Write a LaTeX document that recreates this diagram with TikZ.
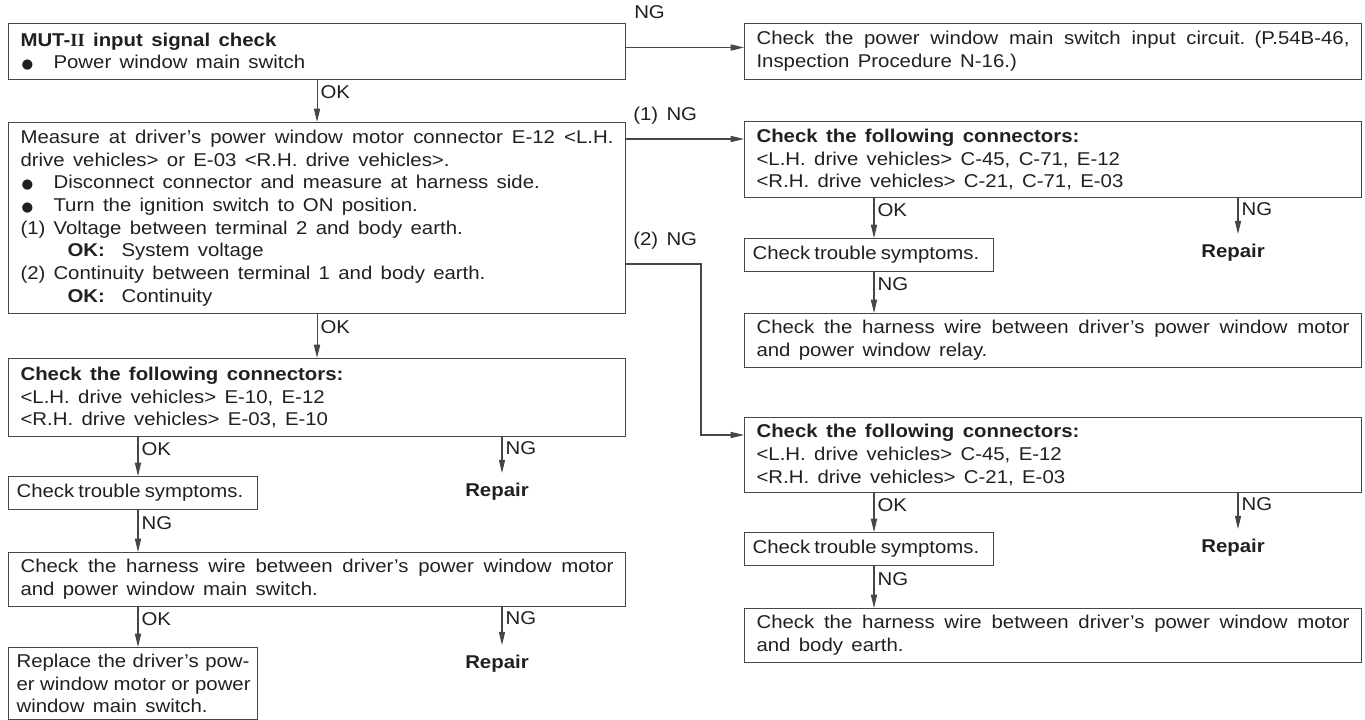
\documentclass[tikz,border=0pt]{standalone}
\usepackage{fontspec}
\usepackage{graphicx}
\setmainfont{Liberation Sans}[FakeStretch=1.1]
\newfontfamily\romfont{Liberation Serif}
\newfontfamily\symfont{DejaVu Sans}
\usetikzlibrary{arrows.meta, positioning}
\definecolor{inkgray}{RGB}{35, 31, 32}
\definecolor{rulegray}{RGB}{70, 70, 70}
\newdimen\px \px=0.75pt
\newcommand{\jl}[2][593\px]{\leavevmode\hbox to #1{\spaceskip=.3em plus 1fil\relax #2}}
\newcommand{\blt}{\makebox[33\px][l]{\hspace*{1\px}\raisebox{.3\px}{\symfont\fontsize{10}{10}\selectfont ●}}}
\newcommand{\itemno}[1]{\makebox[33\px][l]{#1}}
\newcommand{\widesp}{\spaceskip=.45em plus .5em minus .1em\relax}
\newcommand{\tightsp}{\spaceskip=.22em plus .5em minus .05em\relax}

\begin{document}
\begin{tikzpicture}[x=1\px, y=-1\px,
  every node/.style={font=\fontsize{13.9}{17}\selectfont, text=inkgray, execute at begin node=\widesp},
  box/.style={draw=rulegray, line width=0.8pt, anchor=north west, align=left, inner ysep=0pt},
  wide/.style={box, inner xsep=12\px, text width=593\px},
  small/.style={box, inner xsep=8\px, text width=233\px, execute at begin node=\tightsp},
  rep/.style={font=\fontsize{13.9}{17}\selectfont\bfseries, inner ysep=10\px},
  lbl/.style={anchor=west, inner xsep=3\px, inner ysep=1\px},
  arr/.style={-{Triangle[length=10pt, width=4.6pt]}, line width=0.8pt, draw=rulegray}
]
\useasboundingbox (0,0) rectangle (1365,720);

% left column
\node[wide, minimum height=56\px] (mut) at (8,23)
  {\textbf{MUT-{\romfont II} input signal check}\\
   \blt Power window main switch};
\node[wide, minimum height=191\px] (meas) at (8,122)
  {\jl{Measure at driver’s power window motor connector E-12 <L.H.}\\
   drive vehicles> or E-03 <R.H. drive vehicles>.\\
   \blt Disconnect connector and measure at harness side.\\
   \blt Turn the ignition switch to ON position.\\
   \itemno{(1)}Voltage between terminal 2 and body earth.\\
   \hspace*{47\px}\textbf{OK:}\ \ System voltage\\
   \itemno{(2)}Continuity between terminal 1 and body earth.\\
   \hspace*{47\px}\textbf{OK:}\ \ Continuity};
\node[wide, minimum height=78\px] (conL) at (8,358)
  {\textbf{Check the following connectors:}\\
   <L.H. drive vehicles> E-10, E-12\\
   <R.H. drive vehicles> E-03, E-10};
\node[small, minimum height=33\px] (symL) at (8,476) {Check trouble symptoms.};
\node[wide, minimum height=54\px] (harL) at (8,552)
  {\jl{Check the harness wire between driver’s power window motor}\\
   and power window main switch.};
\node[small, minimum height=72\px] (repl) at (8,647)
  {\jl[233\px]{Replace the driver’s pow-}\\
   \jl[233\px]{er window motor or power}\\
   {\widesp window main switch.}};
\node[rep] (repL1) at (497,492) {Repair};
\node[rep] (repL2) at (497,664) {Repair};

% right column
\node[wide, minimum height=56\px] (inp) at (744,23)
  {\jl{Check the power window main switch input circuit. (P.54B-46,}\\
   Inspection Procedure N-16.)};
\node[wide, minimum height=76\px] (conR1) at (744,121)
  {\textbf{Check the following connectors:}\\
   <L.H. drive vehicles> C-45, C-71, E-12\\
   <R.H. drive vehicles> C-21, C-71, E-03};
\node[small, minimum height=33\px] (symR1) at (744,238) {Check trouble symptoms.};
\node[wide, minimum height=54\px] (harR1) at (744,313)
  {\jl{Check the harness wire between driver’s power window motor}\\
   and power window relay.};
\node[wide, minimum height=75\px] (conR2) at (744,417)
  {\textbf{Check the following connectors:}\\
   <L.H. drive vehicles> C-45, E-12\\
   <R.H. drive vehicles> C-21, E-03};
\node[small, minimum height=33\px] (symR2) at (744,532) {Check trouble symptoms.};
\node[wide, minimum height=54\px] (harR2) at (744,608)
  {\jl{Check the harness wire between driver’s power window motor}\\
   and body earth.};
\node[rep] (repR1) at (1233,253) {Repair};
\node[rep] (repR2) at (1233,548) {Repair};

% branch labels
\node[lbl] (ng0) at (631,12) {NG};
\node[lbl] (ng1) at (630,116) {(1) NG};
\node[lbl] (ng2) at (630,241) {(2) NG};

% connectors
\coordinate (in1) at ([yshift=-18\px]conR1.north west);
\coordinate (in2) at ([yshift=-18\px]conR2.north west);
\coordinate (bend) at (701,264);
\draw[arr] ([yshift=4\px]mut.east) -- ([yshift=4\px]inp.west);
\draw[arr] (meas.east |- in1) -- (in1);
\draw[arr] (meas.east |- bend) -- (bend) |- (in2);

\draw[arr] (mut.south) -- (meas.north) node[lbl, pos=.28] {OK};
\draw[arr] (meas.south) -- (conL.north) node[lbl, pos=.3] {OK};
\draw[arr] ([xshift=130\px]conL.south west) -- ([xshift=130\px]symL.north west) node[lbl, pos=.3] {OK};
\draw[arr] ([xshift=494\px]conL.south west) coordinate (a1) -- (a1 |- repL1.north) node[lbl, pos=.3] {NG};
\draw[arr] ([xshift=130\px]symL.south west) -- ([xshift=130\px]harL.north west) node[lbl, pos=.3] {NG};
\draw[arr] ([xshift=130\px]harL.south west) -- ([xshift=130\px]repl.north west) node[lbl, pos=.3] {OK};
\draw[arr] ([xshift=494\px]harL.south west) coordinate (a2) -- (a2 |- repL2.north) node[lbl, pos=.3] {NG};

\draw[arr] ([xshift=130\px]conR1.south west) -- ([xshift=130\px]symR1.north west) node[lbl, pos=.3] {OK};
\draw[arr] ([xshift=494\px]conR1.south west) coordinate (a3) -- (a3 |- repR1.north) node[lbl, pos=.3] {NG};
\draw[arr] ([xshift=130\px]symR1.south west) -- ([xshift=130\px]harR1.north west) node[lbl, pos=.3] {NG};
\draw[arr] ([xshift=130\px]conR2.south west) -- ([xshift=130\px]symR2.north west) node[lbl, pos=.3] {OK};
\draw[arr] ([xshift=494\px]conR2.south west) coordinate (a4) -- (a4 |- repR2.north) node[lbl, pos=.3] {NG};
\draw[arr] ([xshift=130\px]symR2.south west) -- ([xshift=130\px]harR2.north west) node[lbl, pos=.3] {NG};
\end{tikzpicture}
\end{document}
